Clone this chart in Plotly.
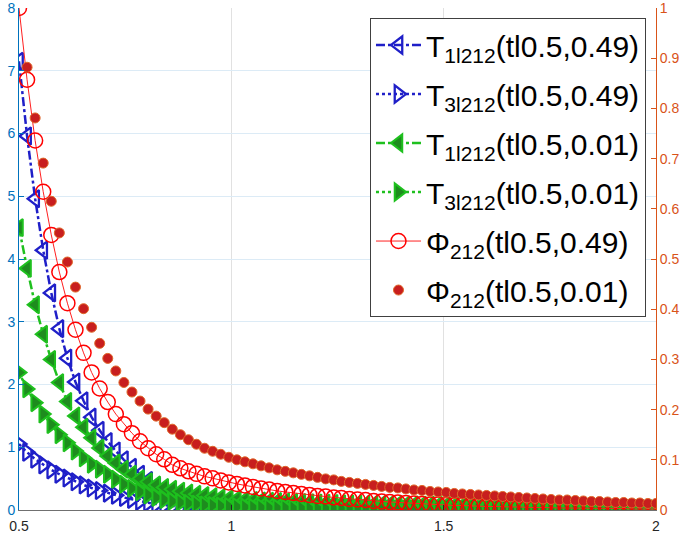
import plotly.graph_objects as go

# --- data ---
t = [
    0.500, 0.519, 0.538, 0.557, 0.576, 0.595, 0.614, 0.633, 0.652, 0.671,
    0.690, 0.709, 0.728, 0.747, 0.766, 0.785, 0.804, 0.823, 0.842, 0.861,
    0.880, 0.899, 0.918, 0.937, 0.956, 0.975, 0.994, 1.013, 1.032, 1.051,
    1.070, 1.089, 1.108, 1.127, 1.146, 1.165, 1.184, 1.203, 1.222, 1.241,
    1.259, 1.278, 1.297, 1.316, 1.335, 1.354, 1.373, 1.392, 1.411, 1.430,
    1.449, 1.468, 1.487, 1.506, 1.525, 1.544, 1.563, 1.582, 1.601, 1.620,
    1.639, 1.658, 1.677, 1.696, 1.715, 1.734, 1.753, 1.772, 1.791, 1.810,
    1.829, 1.848, 1.867, 1.886, 1.905, 1.924, 1.943, 1.962, 1.981, 2.000,
]

# left axis
T1_049 = [
    7.15, 5.96, 4.96, 4.14, 3.46, 2.89, 2.42, 2.04, 1.74, 1.48,
    1.27, 1.09, 0.94, 0.80, 0.68, 0.57, 0.47, 0.38, 0.30, 0.23,
    0.17, 0.12, 0.08, 0.05, 0.03, 0.015, 0.005, 0, 0, 0,
    0, 0, 0, 0, 0, 0, 0, 0, 0, 0,
    0, 0, 0, 0, 0, 0, 0, 0, 0, 0,
    0, 0, 0, 0, 0, 0, 0, 0, 0, 0,
    0, 0, 0, 0, 0, 0, 0, 0, 0, 0,
    0, 0, 0, 0, 0, 0, 0, 0, 0, 0,
]
T3_049 = [
    1.05, 0.92, 0.81, 0.72, 0.64, 0.57, 0.51, 0.45, 0.40, 0.35,
    0.31, 0.27, 0.235, 0.20, 0.17, 0.14, 0.115, 0.095, 0.078, 0.063,
    0.05, 0.04, 0.031, 0.024, 0.018, 0.013, 0.009, 0.006, 0.004, 0.002,
    0, 0, 0, 0, 0, 0, 0, 0, 0, 0,
    0, 0, 0, 0, 0, 0, 0, 0, 0, 0,
    0, 0, 0, 0, 0, 0, 0, 0, 0, 0,
    0, 0, 0, 0, 0, 0, 0, 0, 0, 0,
    0, 0, 0, 0, 0, 0, 0, 0, 0, 0,
]
T1_001 = [
    4.50, 3.85, 3.27, 2.80, 2.40, 2.03, 1.73, 1.50, 1.32, 1.15,
    0.99, 0.86, 0.75, 0.65, 0.57, 0.50, 0.45, 0.40, 0.36, 0.33,
    0.30, 0.27, 0.25, 0.23, 0.21, 0.195, 0.18, 0.17, 0.16, 0.152,
    0.145, 0.14, 0.135, 0.13, 0.125, 0.12, 0.116, 0.112, 0.108, 0.105,
    0.102, 0.099, 0.096, 0.093, 0.09, 0.088, 0.086, 0.084, 0.082, 0.08,
    0.078, 0.076, 0.074, 0.072, 0.07, 0.068, 0.065, 0.063, 0.061, 0.059,
    0.057, 0.055, 0.053, 0.051, 0.049, 0.047, 0.045, 0.043, 0.041, 0.039,
    0.037, 0.035, 0.033, 0.031, 0.029, 0.027, 0.025, 0.023, 0.021, 0.02,
]
T3_001 = [
    2.19, 1.93, 1.71, 1.53, 1.36, 1.20, 1.07, 0.94, 0.83, 0.73,
    0.65, 0.57, 0.49, 0.41, 0.345, 0.29, 0.24, 0.20, 0.165, 0.14,
    0.12, 0.105, 0.092, 0.081, 0.072, 0.064, 0.057, 0.052, 0.047, 0.043,
    0.040, 0.037, 0.034, 0.032, 0.030, 0.028, 0.026, 0.024, 0.023, 0.021,
    0.020, 0.019, 0.018, 0.017, 0.016, 0.015, 0.014, 0.013, 0.013, 0.012,
    0.011, 0.011, 0.010, 0.010, 0.009, 0.009, 0.009, 0.008, 0.008, 0.008,
    0.007, 0.007, 0.007, 0.006, 0.006, 0.006, 0.006, 0.005, 0.005, 0.005,
    0.005, 0.005, 0.004, 0.004, 0.004, 0.004, 0.004, 0.004, 0.004, 0.004,
]

# right axis
PHI_049 = [
    1.000, 0.857, 0.736, 0.634, 0.548, 0.474, 0.412, 0.359, 0.313, 0.274,
    0.242, 0.215, 0.191, 0.171, 0.153, 0.137, 0.123, 0.111, 0.101, 0.090,
    0.083, 0.077, 0.072, 0.067, 0.063, 0.059, 0.055, 0.052, 0.049, 0.046,
    0.043, 0.041, 0.038, 0.036, 0.034, 0.032, 0.030, 0.028, 0.027, 0.025,
    0.024, 0.022, 0.021, 0.020, 0.018, 0.017, 0.016, 0.015, 0.014, 0.013,
    0.012, 0.011, 0.011, 0.010, 0.009, 0.009, 0.008, 0.008, 0.007, 0.007,
    0.006, 0.006, 0.006, 0.005, 0.005, 0.005, 0.004, 0.004, 0.004, 0.004,
    0.003, 0.003, 0.003, 0.003, 0.003, 0.003, 0.002, 0.002, 0.002, 0.002,
]
PHI_001 = [
    None, 0.882, 0.781, 0.691, 0.615, 0.552, 0.494, 0.444, 0.401, 0.364,
    0.332, 0.302, 0.277, 0.254, 0.235, 0.217, 0.201, 0.187, 0.174, 0.161,
    0.150, 0.140, 0.131, 0.123, 0.117, 0.111, 0.105, 0.100, 0.096, 0.092,
    0.088, 0.084, 0.080, 0.077, 0.074, 0.071, 0.068, 0.065, 0.062, 0.060,
    0.057, 0.055, 0.053, 0.051, 0.049, 0.047, 0.045, 0.044, 0.042, 0.040,
    0.039, 0.037, 0.036, 0.035, 0.033, 0.032, 0.031, 0.030, 0.029, 0.028,
    0.027, 0.026, 0.025, 0.024, 0.023, 0.022, 0.021, 0.020, 0.020, 0.019,
    0.018, 0.017, 0.017, 0.016, 0.015, 0.015, 0.014, 0.014, 0.013, 0.013,
]

NAMES = [
    "T<sub>1l212</sub>(tl0.5,0.49)",
    "T<sub>3l212</sub>(tl0.5,0.49)",
    "T<sub>1l212</sub>(tl0.5,0.01)",
    "T<sub>3l212</sub>(tl0.5,0.01)",
    "\u03a6<sub>212</sub>(tl0.5,0.49)",
    "\u03a6<sub>212</sub>(tl0.5,0.01)",
]

X_TICKS = [0.5, 1, 1.5, 2]
X_LABELS = ["0.5", "1", "1.5", "2"]

# --- styles ---
BLUE = "#1f1fc8"
GREEN_LINE = "#1ec01e"
GREEN_FILL = "#1e8c1e"
LEFT_AX = "#0072bd"
RIGHT_AX = "#d95319"
FONT = "Liberation Sans, Arial, sans-serif"

fig = go.Figure()

# T curves on the left axis
fig.add_trace(go.Scatter(
    x=t, y=T1_049, name=NAMES[0], legendgroup="a", mode="lines+markers",
    line=dict(color=BLUE, width=2.5, dash="dashdot"),
    marker=dict(symbol="triangle-left-open", size=15, color=BLUE, line=dict(width=2.3, color=BLUE)),
))
fig.add_trace(go.Scatter(
    x=t, y=T3_049, name=NAMES[1], legendgroup="b", mode="lines+markers",
    line=dict(color=BLUE, width=2.5, dash="dot"),
    marker=dict(symbol="triangle-right-open", size=15, color=BLUE, line=dict(width=2.3, color=BLUE)),
))
fig.add_trace(go.Scatter(
    x=t, y=T1_001, name=NAMES[2], legendgroup="c", mode="lines+markers",
    line=dict(color=GREEN_LINE, width=2.5, dash="dashdot"),
    marker=dict(symbol="triangle-left", size=15, color=GREEN_FILL, line=dict(width=2, color=GREEN_LINE)),
))
fig.add_trace(go.Scatter(
    x=t, y=T3_001, name=NAMES[3], legendgroup="d", mode="lines+markers",
    line=dict(color=GREEN_LINE, width=2.5, dash="dot"),
    marker=dict(symbol="triangle-right", size=15, color=GREEN_FILL, line=dict(width=2, color=GREEN_LINE)),
))

# Phi curves on the right axis
fig.add_trace(go.Scatter(
    x=t, y=PHI_049, name=NAMES[4], legendgroup="e", mode="lines+markers", yaxis="y2",
    line=dict(color="#ff2020", width=1),
    marker=dict(symbol="circle-open", size=15, color="#ff0000", line=dict(width=1.5, color="#ff0000")),
))
fig.add_trace(go.Scatter(
    x=t, y=PHI_001, name=NAMES[5], legendgroup="f", mode="markers", yaxis="y2",
    marker=dict(symbol="circle", size=10, color="#c81e1e", line=dict(width=1, color="#e0682a")),
))

fig.update_layout(
    width=690,
    height=539,
    paper_bgcolor="white",
    plot_bgcolor="white",
    margin=dict(l=19, r=34, t=8, b=29),
    font=dict(family=FONT, size=14, color="#262626"),
    xaxis=dict(
        range=[0.5, 2],
        tickvals=X_TICKS,
        ticktext=X_LABELS,
        ticks="inside",
        ticklen=5,
        tickcolor="#262626",
        showgrid=True,
        gridcolor="#e1e1e1",
        zeroline=False,
        showline=True,
        linecolor="#707070",
        tickfont=dict(size=14, color="#262626"),
        ticklabelstandoff=3,
        ticklabeloverflow="allow",
        automargin=False,
    ),
    yaxis=dict(
        range=[0, 8],
        dtick=1,
        ticks="inside",
        ticklen=5,
        tickcolor=LEFT_AX,
        showgrid=True,
        gridcolor="#dcebf6",
        zeroline=False,
        showline=True,
        linecolor=LEFT_AX,
        tickfont=dict(size=14, color=LEFT_AX),
        ticklabeloverflow="allow",
        automargin=False,
    ),
    yaxis2=dict(
        range=[0, 1],
        dtick=0.1,
        overlaying="y",
        side="right",
        ticks="inside",
        ticklen=5,
        tickcolor=RIGHT_AX,
        showgrid=False,
        zeroline=False,
        showline=True,
        linecolor=RIGHT_AX,
        tickfont=dict(size=14, color=RIGHT_AX),
        ticklabeloverflow="allow",
        automargin=False,
    ),
    legend=dict(
        x=0.551,
        y=0.98,
        xanchor="left",
        yanchor="top",
        bgcolor="white",
        bordercolor="#404040",
        borderwidth=1,
        itemwidth=45,
        font=dict(family=FONT, size=30, color="#000000"),
        tracegroupgap=7,
    ),
)

# page body has a default margin; drop it so the figure sits at the window corner
fig.write_html(
    "out.html",
    config={"displayModeBar": False},
    post_script="document.body.style.margin='0';",
)
